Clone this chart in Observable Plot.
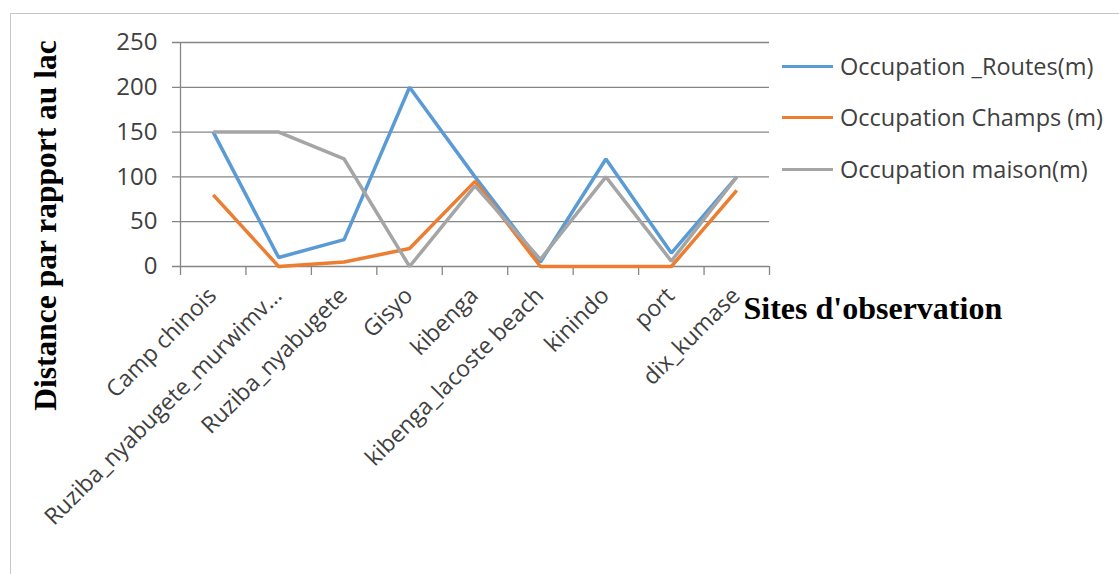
<!DOCTYPE html>
<html>
<head>
<meta charset="utf-8">
<script src="https://cdn.jsdelivr.net/npm/d3@7"></script>
<script src="https://cdn.jsdelivr.net/npm/@observablehq/plot@0.6"></script>
<style>
  html, body { margin: 0; padding: 0; background: #fff; }
  #wrap { position: relative; width: 1119px; height: 574px; overflow: hidden; font-family: "Open Sans", sans-serif; }
  #border { position: absolute; left: 10px; top: 13px; width: 1200px; height: 700px; border-left: 1px solid #c6c6c6; border-top: 1px solid #c6c6c6; }
  #chart { position: absolute; left: 0; top: 0; }
  .leg { position: absolute; left: 782px; height: 30px; display: flex; align-items: center; }
  .leg .sw { width: 51px; height: 3px; margin-right: 7px; }
  .leg .lb { font-size: 23.5px; color: #404040; white-space: nowrap; }
</style>
</head>
<body>
<div id="wrap">
  <div id="border"></div>
  <div id="chart"></div>
  <div id="legend"></div>
</div>
<script>
const sites = ["Camp chinois", "Ruziba_nyabugete_murwimv…", "Ruziba_nyabugete", "Gisyo", "kibenga", "kibenga_lacoste beach", "kinindo", "port", "dix_kumase"];
const routes = [150, 10, 30, 200, 100, 5, 120, 15, 100];
const champs = [80, 0, 5, 20, 95, 0, 0, 0, 85];
const maison = [150, 150, 120, 0, 90, 8, 100, 6, 100];
const yTicks = [0, 50, 100, 150, 200, 250];
const seriesNames = ["Occupation _Routes(m)", "Occupation Champs (m)", "Occupation maison(m)"];
const seriesColors = ["#5B9BD5", "#ED7D31", "#A5A5A5"];
const yTitle = "Distance par rapport au lac";
const xTitle = "Sites d'observation";

const seriesValues = [routes, champs, maison];
const rows = [];
seriesValues.forEach((vals, s) => {
  vals.forEach((v, i) => rows.push({series: seriesNames[s], idx: i, site: sites[i], value: v}));
});

const axisColor = "#868686";
const chart = Plot.plot({
  width: 1119,
  height: 574,
  marginLeft: 180,
  marginRight: 350,
  marginTop: 42,
  marginBottom: 308,
  style: {background: "transparent", fontFamily: "Open Sans, sans-serif", overflow: "visible"},
  x: {type: "linear", domain: [0, sites.length], axis: null},
  y: {domain: [0, 250], axis: null},
  color: {domain: seriesNames, range: seriesColors},
  marks: [
    Plot.ruleY(yTicks, {stroke: axisColor, strokeWidth: 1.3, insetLeft: -8}),
    Plot.ruleX([0], {y1: 0, y2: 250, stroke: axisColor, strokeWidth: 1.3}),
    Plot.ruleX(d3.range(sites.length + 1), {y1: 0, y2: 0, insetBottom: -9, stroke: axisColor, strokeWidth: 1.3}),
    Plot.line(rows, {x: d => d.idx + 0.5, y: "value", z: "series", stroke: "series", strokeWidth: 3.5, strokeLinejoin: "miter", strokeLinecap: "butt"}),
    Plot.text(yTicks, {x: () => 0, y: d => d, text: d => String(d), textAnchor: "end", dx: -23, fontSize: 24, fill: "#404040"}),
    Plot.text(sites, {x: (d, i) => i + 0.5, y: () => 0, text: d => d, rotate: -45, textAnchor: "end", lineAnchor: "top", dx: -7, dy: 19, fontSize: 23, fill: "#404040"}),
    Plot.text([yTitle], {frameAnchor: "left", text: d => d, rotate: -90, textAnchor: "middle", dx: -135, dy: 71, fontSize: 31.5, fontWeight: "bold", fontFamily: "Liberation Serif, serif", fill: "#000"}),
    Plot.text([xTitle], {frameAnchor: "bottom-left", text: d => d, textAnchor: "start", lineAnchor: "bottom", dx: 563, dy: 52, fontSize: 32, fontWeight: "bold", fontFamily: "Liberation Serif, serif", fill: "#000"})
  ]
});
document.getElementById("chart").appendChild(chart);

const legend = document.getElementById("legend");
const legendTops = [51, 102, 154];
seriesNames.forEach((name, i) => {
  const item = document.createElement("div");
  item.className = "leg";
  item.style.top = legendTops[i] + "px";
  item.innerHTML = `<div class="sw" style="background:${seriesColors[i]}"></div><div class="lb"></div>`;
  item.querySelector(".lb").textContent = name;
  legend.appendChild(item);
});
</script>
</body>
</html>
